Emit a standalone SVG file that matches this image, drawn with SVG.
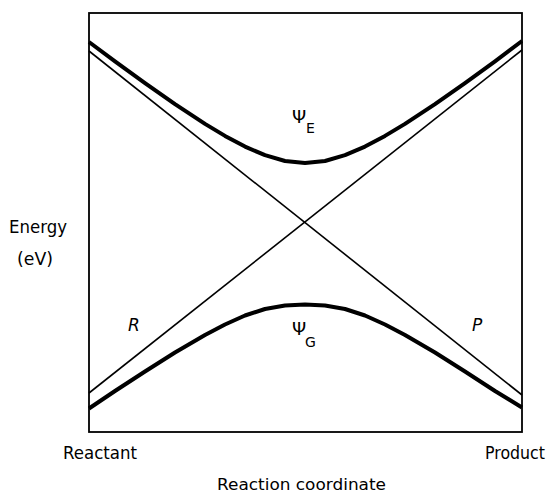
<svg xmlns="http://www.w3.org/2000/svg" width="549" height="495" viewBox="0 0 549 495">
<style>
.t{font-family:"DejaVu Sans","Liberation Sans",sans-serif;fill:#000}
.thin{fill:none;stroke:#000;stroke-width:1.6}
.thick{fill:none;stroke:#000;stroke-width:4;stroke-linejoin:round}
</style>
<rect width="549" height="495" fill="#fff"/>
<g id="axes">
<rect x="89" y="13" width="433" height="419" fill="none" stroke="#000" stroke-width="1.8"/>
</g>
<g id="connectors">
<line id="P-curve" class="thin" x1="89" y1="51" x2="522" y2="395"/>
<line id="R-curve" class="thin" x1="89" y1="393" x2="522" y2="50"/>
<polyline id="psiE-curve" class="thick" points="89,42 115,61.3 145,83.1 175,104.1 205,123.9 225,135.9 245,146.6 265,155.2 285,161 305,163 325,161 345,155.2 365,146.6 385,135.9 405,123.9 435,104.1 465,83.1 495,61.3 522,41"/>
<polyline id="psiG-curve" class="thick" points="89,408.5 115,391 145,371.5 175,352.5 205,335 225,324.5 245,315.5 265,309 285,305.5 305,304.5 325,305.5 345,309 365,315.5 385,324.5 405,335 435,352.5 465,371.5 495,391 522,407.5"/>
</g>
<g id="labels">
<text class="t" x="9" y="233" font-size="17" textLength="58" lengthAdjust="spacingAndGlyphs">Energy</text>
<text class="t" x="17" y="265" font-size="17" textLength="36" lengthAdjust="spacingAndGlyphs">(eV)</text>
<text class="t" x="63" y="459" font-size="17" textLength="74" lengthAdjust="spacingAndGlyphs">Reactant</text>
<text class="t" x="485" y="459" font-size="17" textLength="60" lengthAdjust="spacingAndGlyphs">Product</text>
<text class="t" x="217" y="490" font-size="15" textLength="169" lengthAdjust="spacingAndGlyphs">Reaction coordinate</text>
<text class="t" x="128" y="331" font-size="17" font-style="italic">R</text>
<text class="t" x="472" y="331" font-size="17" font-style="italic">P</text>
</g>
<g id="psiE">
<text class="t" x="292" y="123" font-size="18">Ψ</text>
<text class="t" x="306" y="133" font-size="14">E</text>
</g>
<g id="psiG">
<text class="t" x="292" y="335" font-size="18">Ψ</text>
<text class="t" x="305" y="347" font-size="14">G</text>
</g>
</svg>
